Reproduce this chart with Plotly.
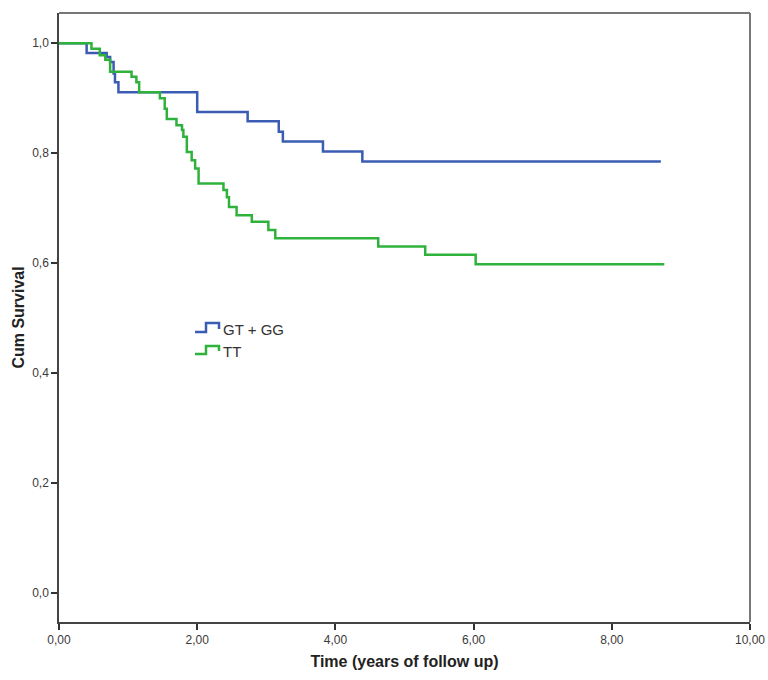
import plotly.graph_objects as go

# Kaplan-Meier step data
series_names = ["GT + GG", "TT"]

gt_gg_time = [0.0, 0.40, 0.69, 0.74, 0.79, 0.81, 0.86, 2.00, 2.73, 3.18, 3.24, 3.82, 4.39, 8.71]
gt_gg_surv = [1.0, 0.982, 0.975, 0.966, 0.945, 0.929, 0.911, 0.875, 0.858, 0.839, 0.821, 0.803, 0.785, 0.785]

tt_time = [0.0, 0.47, 0.59, 0.67, 0.74, 1.05, 1.12, 1.16, 1.46, 1.53, 1.56, 1.70, 1.78, 1.80,
           1.85, 1.92, 1.97, 2.02, 2.38, 2.43, 2.46, 2.57, 2.79, 3.03, 3.13, 4.62, 5.30, 6.03, 8.76]
tt_surv = [1.0, 0.990, 0.978, 0.970, 0.948, 0.939, 0.929, 0.911, 0.900, 0.881, 0.862, 0.851, 0.842, 0.830,
           0.802, 0.787, 0.772, 0.745, 0.733, 0.720, 0.702, 0.687, 0.675, 0.660, 0.645, 0.630, 0.615, 0.598, 0.598]

x_ticks = [0, 2, 4, 6, 8, 10]
y_ticks = [0.0, 0.2, 0.4, 0.6, 0.8, 1.0]

blue = "#3b5cb3"
green = "#2fb23c"
colors = [blue, green]

fig = go.Figure()
fig.add_trace(go.Scatter(x=gt_gg_time, y=gt_gg_surv, mode="lines", name=series_names[0],
                         line=dict(color=blue, width=2.5, shape="hv"), showlegend=False))
fig.add_trace(go.Scatter(x=tt_time, y=tt_surv, mode="lines", name=series_names[1],
                         line=dict(color=green, width=2.5, shape="hv"), showlegend=False))

# custom legend with step-shaped icons (paper coordinates)
L, R, T, B = 59, 750, 13, 622
def px(x):
    return (x - L) / (R - L)
def py(y):
    return (B - y) / (B - T)

icon_rows = [(332, 323, 329, 329), (354, 346, 351, 351)]
for (ybase, ytop, yend, ytext), name, col in zip(icon_rows, series_names, colors):
    path = (f"M {px(195)},{py(ybase)} L {px(206)},{py(ybase)} L {px(206)},{py(ytop)} "
            f"L {px(219)},{py(ytop)} L {px(219)},{py(yend)}")
    fig.add_shape(type="path", path=path, xref="paper", yref="paper",
                  line=dict(color=col, width=2.5))
    fig.add_annotation(x=px(221), y=py(ytext), xref="paper", yref="paper", text=name,
                       showarrow=False, xanchor="left", yanchor="middle",
                       font=dict(family="Liberation Sans, Arial", size=15, color="#333333"))

# lighter top/right frame as in the reference
fig.add_shape(type="line", xref="paper", yref="paper", x0=0, x1=1, y0=1, y1=1,
              line=dict(color="#777777", width=2))
fig.add_shape(type="line", xref="paper", yref="paper", x0=1, x1=1, y0=0, y1=1,
              line=dict(color="#777777", width=2))

title_font = dict(family="Liberation Sans Narrow, Arial Narrow, Liberation Sans", size=16, color="#222222")
tick_font = dict(family="Liberation Sans, Arial", size=12, color="#3a3a3a")

fig.update_layout(
    width=768, height=680,
    margin=dict(l=L, r=768 - R, t=T, b=680 - B, autoexpand=False),
    paper_bgcolor="white", plot_bgcolor="white",
    separators=",.",
    xaxis=dict(range=[0, 10], tickvals=x_ticks, tickformat=".2f", ticks="outside", ticklen=6,
               tickcolor="#333333", tickwidth=1.5, showgrid=False, zeroline=False,
               showline=True, linecolor="#444444", linewidth=1.5, mirror=False,
               tickfont=tick_font, automargin=False,
               title=dict(text="<b>Time (years of follow up)</b>", font=title_font, standoff=10)),
    yaxis=dict(range=[-0.053, 1.055], tickvals=y_ticks, tickformat=".1f", ticks="outside", ticklen=6,
               tickcolor="#333333", tickwidth=1.5, showgrid=False, zeroline=False,
               showline=True, linecolor="#444444", linewidth=1.5, mirror=False,
               tickfont=tick_font, automargin=False,
               title=dict(text="<b>Cum Survival</b>", font=title_font, standoff=4)),
)

fig.write_html("out.html", config={"displayModeBar": False},
               post_script="document.body.style.margin='0';document.body.style.overflow='hidden';")
